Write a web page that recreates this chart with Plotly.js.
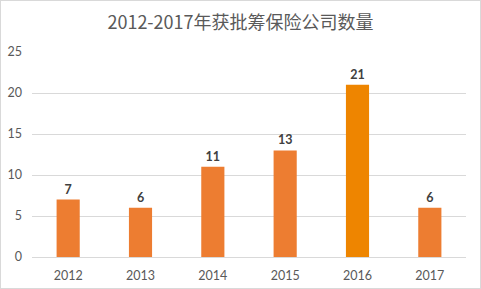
<!DOCTYPE html>
<html><head><meta charset="utf-8">
<script src="https://cdn.plot.ly/plotly-3.0.1.min.js"></script>
<style>html,body{margin:0;padding:0;background:#fff}#c{width:481px;height:289px;box-sizing:border-box;border:1px solid #d9d9d9;overflow:hidden}#p{position:relative;left:-1px;top:-1px}</style>
</head><body><div id="c"><div id="p"></div></div>
<script>
var years = ['2012','2013','2014','2015','2016','2017'];
var counts = [7, 6, 11, 13, 21, 6];
var barColors = ['#ED7D31','#ED7D31','#ED7D31','#ED7D31','#EE8500','#ED7D31'];
var yTicks = [0,5,10,15,20,25];

Plotly.newPlot('p', [{
  type:'bar', x:years, y:counts,
  marker:{color:barColors},
  text:counts.map(String), textposition:'outside',
  textfont:{family:'Lato, sans-serif', size:12.5, color:'#404040', weight:'bold'},
  cliponaxis:false, hoverinfo:'none'
}], {
  width:481, height:289,
  margin:{l:32, r:15, t:52, b:31.5, pad:0},
  paper_bgcolor:'rgba(0,0,0,0)', plot_bgcolor:'rgba(0,0,0,0)',
  bargap:0.68,
  showlegend:false,
  title:{text:'2012-2017年获批筹保险公司数量', x:0.5, xanchor:'center', y:0.92, yanchor:'middle', font:{family:'"Noto Sans CJK SC", sans-serif', size:18, color:'#595959'}},
  xaxis:{type:'category', showgrid:false, showline:true, linecolor:'#d9d9d9', linewidth:1, ticks:'', ticklabelstandoff:7,
    tickfont:{family:'Lato, sans-serif', size:12.5, color:'#595959'}, fixedrange:true},
  yaxis:{range:[0,25], tickvals:yTicks, ticktext:yTicks.map(String), showgrid:true, gridcolor:'#d9d9d9', gridwidth:1, zeroline:false, showline:false, ticks:'', ticklabelstandoff:9,
    tickfont:{family:'Lato, sans-serif', size:12.5, color:'#595959'}, fixedrange:true}
}, {displayModeBar:false, staticPlot:true});
</script></body></html>
